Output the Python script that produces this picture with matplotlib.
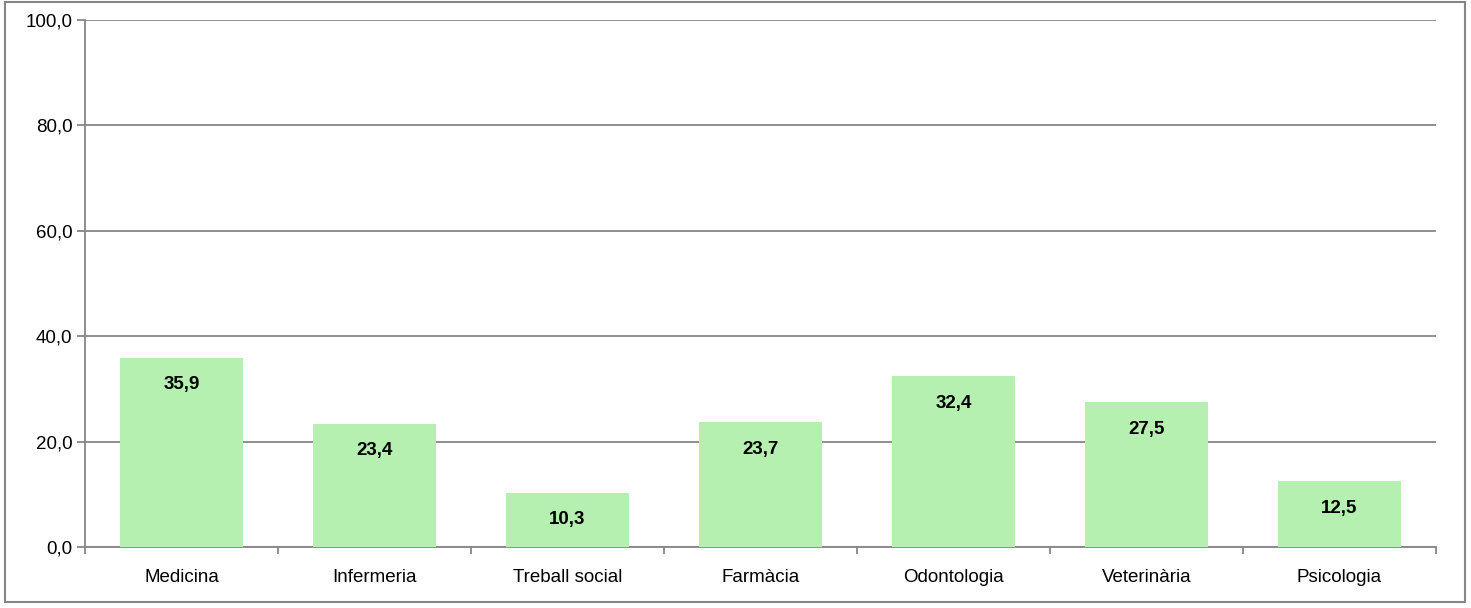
import matplotlib
matplotlib.use("Agg")
import matplotlib.pyplot as plt
from matplotlib import font_manager
from matplotlib.patches import Rectangle

categories = ["Medicina", "Infermeria", "Treball social", "Farmàcia", "Odontologia", "Veterinària", "Psicologia"]
values = [35.9, 23.4, 10.3, 23.7, 32.4, 27.5, 12.5]
yticks = [0, 20, 40, 60, 80, 100]

names = {f.name for f in font_manager.fontManager.ttflist}
fam = "Liberation Sans Narrow" if "Liberation Sans Narrow" in names else "Liberation Sans"
plt.rcParams['font.family'] = [fam, 'DejaVu Sans']

fig = plt.figure(figsize=(14.71, 6.08), dpi=100)
W, H = 1471, 608
ax = fig.add_axes([85 / W, 1 - 547 / H, (1436 - 85) / W, (547 - 20) / H])

grid_c = "#868686"
x = list(range(len(categories)))
bars = ax.bar(x, values, width=0.64, color="#b5f0b0", zorder=3)
ax.set_xlim(-0.5, len(categories) - 0.5)
ax.set_ylim(0, 100)
ax.set_yticks(yticks)
ax.set_yticklabels([f"{v:.1f}".replace(".", ",") for v in yticks], fontsize=13.5)
ax.set_xticks([i - 0.5 for i in range(len(categories) + 1)])
ax.set_xticklabels([])
ax.set_xticks(x, minor=True)
ax.set_xticklabels(categories, minor=True, fontsize=13.5)
ax.tick_params(axis="x", which="minor", length=0, pad=16)
ax.tick_params(axis="x", which="major", length=5, color=grid_c, width=1.3)
ax.tick_params(axis="y", length=6, color=grid_c, width=1.3, pad=3)
ax.yaxis.grid(True, color=grid_c, linewidth=1.3, zorder=0)
for s in ["top", "right"]:
    ax.spines[s].set_visible(False)
for s in ["left", "bottom"]:
    ax.spines[s].set_color(grid_c)
    ax.spines[s].set_linewidth(1.3)

for b, v in zip(bars, values):
    ax.annotate(f"{v:.1f}".replace(".", ","), (b.get_x() + b.get_width() / 2, v),
                xytext=(0, -27), textcoords="offset pixels",
                ha="center", va="center", fontsize=13.5, fontweight="bold", zorder=4)

fig.patches.append(Rectangle((5 / W, 1 - 602 / H), (1465 - 5) / W, (602 - 2) / H,
                             transform=fig.transFigure, fill=False, edgecolor=grid_c, linewidth=1.5))
fig.savefig("out.png", dpi=100)
